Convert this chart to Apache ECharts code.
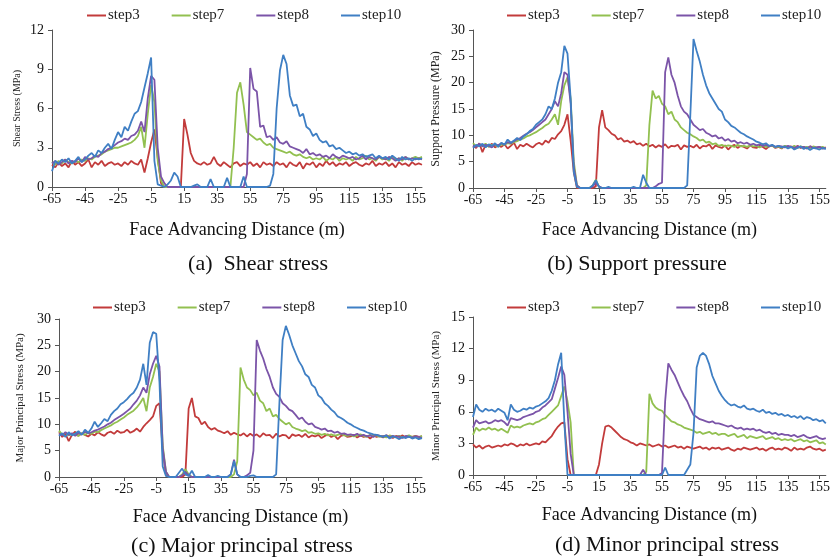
<!DOCTYPE html>
<html><head><meta charset="utf-8">
<script src="https://cdn.jsdelivr.net/npm/echarts@6/dist/echarts.min.js"></script>
<style>html,body{margin:0;padding:0;background:#fff}#c{width:833px;height:558px}</style>
</head><body><div id="c"></div>
<script>
const distance = [-65,-63,-61,-59,-57,-55,-53,-51,-49,-47,
-45,-43,-41,-39,-37,-35,-33,-31,-29,-27,
-25,-23,-21,-19,-17,-15,-13,-11,-9,-7,
-5,-3,-1,1,3,5,7,9,11,13,
15,17,19,21,23,25,27,29,31,33,
35,37,39,41,43,45,47,49,51,53,
55,57,59,61,63,65,67,69,71,73,
75,77,79,81,83,85,87,89,91,93,
95,97,99,101,103,105,107,109,111,113,
115,117,119,121,123,125,127,129,131,133,
135,137,139,141,143,145,147,149,151,153,
155,157,159];
const seriesNames = ['step3','step7','step8','step10'];
const colors = ['#c23b3b','#92c050','#7b54a8','#3f7fc4'];

// (a) Shear stress
const shear3 = [1.7,1.5,1.9,1.6,1.8,1.5,2.0,1.7,1.9,1.6,
1.8,2.1,1.5,1.9,1.7,2.0,1.6,1.8,1.9,1.7,
1.8,1.6,1.9,1.7,2.0,1.8,1.7,2.1,1.1,2.2,
3.4,4.4,2.2,0.3,0,0,0,0,0,0,
5.2,4.0,2.6,2.0,1.8,1.7,1.9,1.7,1.8,2.3,
1.8,1.6,1.9,1.7,1.5,1.8,1.9,1.6,1.8,1.7,
1.9,1.6,1.8,1.5,1.9,1.7,1.8,1.6,1.9,1.7,
1.8,1.5,1.9,1.7,1.6,1.9,1.4,1.8,1.7,1.9,
1.5,1.8,1.6,2.0,1.7,1.9,1.6,1.8,1.7,1.9,
1.6,1.8,1.9,1.7,1.6,1.8,1.7,2.0,1.6,1.8,
1.7,1.9,1.6,1.8,1.5,1.9,1.7,1.8,1.6,1.9,
1.7,1.8,1.7];
const shear7 = [1.9,1.7,2.0,1.8,2.1,1.9,1.8,2.0,1.9,2.1,
2.0,2.2,2.1,2.3,2.4,2.5,2.7,2.8,2.9,3.0,
3.0,3.1,3.2,3.3,3.4,3.6,3.9,4.6,3.0,5.6,
7.8,6.5,2.0,0.5,0,0,0,0,0,0,
0,0,0,0,0,0,0,0,0,0,
0,0,0,0,0,3.0,7.2,8.0,6.3,4.2,
4.0,3.8,3.6,3.7,3.4,3.2,3.3,3.0,2.9,2.8,
2.7,2.6,2.7,2.5,2.4,2.5,2.3,2.2,2.3,2.1,
2.2,2.1,2.3,2.0,2.2,2.1,2.3,2.0,2.2,2.1,
2.2,2.0,2.3,2.1,2.2,2.4,2.1,2.2,2.0,2.3,
2.1,2.2,2.0,2.3,2.1,2.2,2.0,2.3,2.1,2.2,
2.3,2.2,2.3];
const shear8 = [1.8,2.0,1.7,1.9,2.1,1.8,2.0,1.9,2.2,1.9,
2.3,2.1,2.2,2.4,2.3,2.6,2.7,2.9,3.0,3.2,
3.4,3.5,3.7,3.6,3.9,4.0,4.3,5.0,4.2,6.8,
8.5,8.2,3.0,0.8,0.3,0,0,0,0,0,
0,0,0,0,0,0,0,0,0,0,
0,0,0,0,0,0,0,0,0,1.0,
9.1,7.5,7.3,4.6,4.7,3.8,3.9,3.6,3.8,3.4,
3.3,3.5,3.1,3.0,2.9,2.8,2.6,2.9,2.5,2.6,
2.4,2.5,2.3,2.4,2.2,2.5,2.3,2.2,2.4,2.3,
2.2,2.3,2.1,2.2,2.4,2.1,2.3,2.2,2.1,2.3,
2.2,2.1,2.3,2.2,2.0,2.2,2.1,2.3,2.1,2.2,
2.1,2.2,2.1];
const shear10 = [1.2,2.0,1.8,2.1,1.9,2.2,1.8,2.0,2.3,1.9,
2.1,2.4,2.6,2.3,2.8,2.6,3.0,3.3,2.9,3.6,
4.2,3.8,4.6,4.3,5.0,5.6,5.8,6.5,7.6,8.7,
9.9,2.0,0.2,0.1,0,0.2,0.5,1.1,0.8,0,
0,0,0,0.1,0.2,0,0,0,0.6,0,
0,0,0,0.7,0,0,0,0,0.8,0,
0,0,0,0,0,0,0.1,1.0,6.0,8.9,
10.1,9.4,7.0,6.2,6.3,5.4,5.6,4.6,4.4,3.9,
4.1,3.6,3.4,3.5,3.1,3.2,2.9,3.0,2.8,2.6,
2.7,2.5,2.6,2.4,2.5,2.3,2.4,2.5,2.2,2.4,
2.2,2.3,2.1,2.4,2.2,2.0,2.3,2.1,2.2,2.0,
2.2,2.1,2.2];

// (b) Support pressure
const support3 = [8.0,7.6,8.5,6.8,8.2,7.9,8.4,7.7,8.1,7.8,
8.3,7.5,8.0,8.6,7.4,8.2,7.9,8.4,8.0,7.7,
8.3,8.6,8.2,9.0,8.6,9.5,9.3,10.2,10.8,12.0,
14.0,9.0,3.0,0,0,0,0,0,0,0.3,
11.5,14.8,11.5,11.0,10.3,10.0,9.2,9.5,8.8,9.0,
8.6,8.9,8.3,8.5,8.0,8.4,7.9,8.2,7.7,8.1,
7.8,8.3,7.6,8.0,7.9,8.2,7.3,8.1,7.8,8.0,
7.7,8.2,7.5,8.0,7.9,8.3,7.4,8.1,7.8,7.6,
8.1,7.3,7.9,8.2,7.6,8.0,7.8,7.5,8.1,7.7,
7.6,8.0,7.8,7.4,7.9,8.1,7.6,7.8,7.5,8.0,
7.7,7.9,7.4,8.0,7.6,7.8,7.5,7.9,7.7,7.6,
7.8,7.5,7.7];
const support7 = [8.5,7.9,8.3,8.0,8.4,7.8,8.2,8.1,7.9,8.3,
8.2,8.5,8.4,8.7,8.9,9.2,9.4,9.8,10.0,10.3,
10.6,11.0,11.4,11.9,12.2,13.0,14.0,12.0,16.5,19.5,
21.0,17.0,5.0,0.5,0,0,0,0,0.5,1.6,
0.2,0,0,0,0,0,0,0,0,0,
0,0,0,0,0,0.5,12.0,18.5,17.0,17.5,
16.0,15.5,14.0,14.5,13.0,12.5,11.5,11.0,10.5,10.2,
9.8,9.5,9.0,9.2,8.6,8.8,8.3,8.5,8.0,8.2,
7.9,8.1,8.0,7.8,8.2,7.9,8.0,7.8,8.1,7.9,
8.0,7.7,8.1,7.8,7.9,8.0,7.7,7.9,7.6,8.0,
7.8,7.7,8.0,7.6,7.9,7.7,7.8,7.5,7.9,7.7,
7.6,7.8,7.5];
const support8 = [8.1,7.8,8.4,7.9,8.2,8.0,7.7,8.3,8.1,8.5,
8.3,8.7,8.5,8.9,9.2,9.5,9.9,10.3,10.6,11.0,
11.5,12.0,12.5,13.0,14.0,15.0,16.5,15.5,18.0,22.0,
21.5,16.0,4.0,0.5,0,0,0,0,0.3,1.0,
0.3,0,0,0,0,0,0,0,0,0,
0,0,0,0,0,0,0,0,0.3,0.8,
1.0,22.0,24.8,21.5,20.0,17.5,15.5,14.5,14.0,13.0,
12.0,11.5,11.0,11.2,10.5,10.2,9.8,10.0,9.4,9.6,
9.0,9.3,8.8,9.0,8.5,8.7,8.4,8.6,8.2,8.4,
8.1,8.3,8.0,8.2,7.9,8.1,7.8,8.0,7.9,7.7,
8.0,7.8,7.6,7.9,7.7,7.8,7.5,7.9,7.6,7.7,
7.8,7.5,7.6];
const support10 = [7.6,8.2,7.9,8.4,7.7,8.3,8.0,8.5,7.8,8.6,
8.2,9.2,8.6,9.0,9.5,9.1,9.8,10.2,10.8,11.2,
12.0,12.5,13.0,14.0,15.5,15.0,17.0,20.0,22.0,27.0,
25.5,17.0,3.0,0.2,0,0,0,0,0.5,1.5,
0.2,0,0,0.2,0,0,0,0,0,0,
0,0.2,0,0,2.5,1.0,0,0,0,0,
0,0,0,0,0,0,0,0,0.5,14.0,
28.3,26.0,24.0,21.5,19.5,18.0,17.0,16.0,15.0,14.5,
13.0,12.5,11.8,11.5,11.0,10.5,10.2,9.8,9.5,9.2,
8.8,8.6,8.3,8.5,8.0,8.2,7.8,8.0,7.7,7.9,
7.5,7.8,7.3,7.6,7.9,7.4,7.7,7.2,7.6,7.5,
7.3,7.6,7.4];

// (c) Major principal stress
const major3 = [8.5,7.6,8.2,6.8,8.0,8.6,7.8,8.3,8.0,7.7,
8.2,7.9,8.5,8.1,7.8,8.4,8.6,8.2,8.8,8.4,
8.5,9.0,8.4,8.7,9.2,8.6,9.5,10.2,10.8,11.5,
13.5,14.0,5.0,0.3,0,0,0,0,0,0.5,
13.0,15.0,11.5,11.2,10.0,10.5,9.5,9.0,9.3,8.8,
8.6,8.3,8.7,8.0,8.4,8.1,7.9,8.3,7.7,8.2,
7.8,8.1,7.6,8.3,7.9,8.0,7.4,8.2,7.7,8.0,
7.9,7.3,8.1,7.8,8.0,7.6,8.2,7.5,7.9,7.7,
8.0,7.4,7.8,8.1,7.6,7.9,7.2,7.8,8.0,7.6,
7.7,8.0,7.5,7.9,7.6,7.8,7.3,7.9,7.6,7.8,
7.5,7.9,7.7,7.4,7.8,7.6,7.9,7.5,7.7,7.6,
7.8,7.6,7.7];
const major7 = [8.8,8.0,8.4,7.9,8.2,8.1,7.8,8.3,8.0,8.4,
8.2,8.6,8.5,8.9,9.2,9.5,9.8,10.2,10.5,10.9,
11.3,11.8,12.2,12.6,13.2,14.0,15.0,12.5,17.0,19.0,
21.5,20.0,6.0,1.0,0,0,0,0,0.5,1.5,
0.5,0,0,0,0,0,0,0,0,0,
0,0,0,0,0.5,3.0,20.8,18.5,17.0,16.5,
15.5,16.0,14.5,14.0,12.5,13.0,11.5,11.8,11.0,10.5,
10.0,10.3,9.5,9.2,9.0,8.7,8.9,8.4,8.5,8.2,
8.3,8.0,8.2,7.9,8.1,7.8,8.0,8.2,7.9,7.8,
8.0,7.7,7.9,8.1,7.8,7.6,8.0,7.7,7.9,7.6,
7.8,7.5,7.9,7.7,7.6,7.8,7.5,7.7,7.9,7.6,
7.7,7.5,7.8];
const major8 = [8.2,7.9,8.5,8.0,8.3,7.8,8.4,8.1,8.6,8.3,
8.5,8.8,9.0,9.3,9.6,10.0,10.3,10.8,11.2,11.6,
12.0,12.5,13.0,13.8,14.5,15.5,17.0,16.0,19.5,21.5,
23.0,21.0,5.5,1.0,0,0,0,0,0.3,1.0,
0.3,0,0,0,0,0,0,0,0,0,
0,0,0,0.5,3.3,0.5,0,0,0.3,0.8,
5.0,26.0,24.0,22.5,20.5,19.0,17.0,15.8,15.2,14.0,
13.5,12.8,12.5,11.8,11.0,11.3,10.5,10.0,10.2,9.5,
9.3,9.0,9.2,8.7,8.8,8.4,8.6,8.2,8.3,8.0,
8.1,7.9,8.2,7.8,8.0,7.7,7.9,7.6,8.0,7.8,
7.7,7.9,7.5,7.8,7.6,7.7,7.4,7.8,7.6,7.5,
7.7,7.6,7.4];
const major10 = [7.8,8.3,7.6,8.5,7.9,8.2,8.7,8.0,9.0,8.4,
9.2,10.5,9.5,10.2,11.0,10.6,11.8,12.5,13.0,13.8,
14.2,14.8,15.5,16.0,17.0,18.5,21.5,17.5,25.5,27.5,
27.2,18.0,2.0,0.2,0,0,0,0.8,1.6,0.5,
0.2,1.2,0,0,0,0,0.4,0,0,0.2,
0,0,0,0.5,3.0,0.5,0,0,0,0.2,
0.3,0,0,0,0,0,0,0.5,14.0,26.0,
28.7,27.0,25.0,23.5,22.0,21.0,19.5,19.0,17.5,17.0,
15.5,15.0,14.0,13.5,12.8,12.3,11.5,11.2,10.8,10.3,
10.0,9.6,9.3,9.0,8.8,8.5,8.3,8.1,8.0,7.8,
7.6,7.9,7.3,7.7,7.5,7.2,7.6,7.4,7.7,7.3,
7.5,7.2,7.4];

// (d) Minor principal stress
const minor3 = [2.9,2.6,2.8,2.5,2.7,2.8,2.6,2.7,2.8,2.7,
2.9,2.8,3.0,2.9,2.7,2.9,2.8,3.0,2.8,2.9,
3.0,2.9,3.2,3.1,3.4,3.7,4.2,4.6,4.9,5.0,
1.5,0,0,0,0,0,0,0,0,0,
1.0,3.0,4.6,4.7,4.5,4.2,3.9,3.6,3.4,3.3,
3.1,3.0,2.8,3.0,2.9,2.8,2.9,2.7,2.8,2.9,
2.7,2.8,2.6,2.7,2.8,2.6,2.7,2.5,2.7,2.6,
2.5,2.6,2.7,2.5,2.6,2.4,2.6,2.5,2.6,2.4,
2.5,2.6,2.4,2.3,2.5,2.4,2.6,2.5,2.4,2.5,
2.6,2.4,2.5,2.3,2.5,2.6,2.4,2.5,2.4,2.6,
2.5,2.3,2.6,2.4,2.5,2.4,2.6,2.7,2.5,2.4,
2.5,2.3,2.4];
const minor7 = [3.8,4.5,4.2,4.4,4.3,4.5,4.3,4.4,4.2,4.4,
4.2,4.0,4.7,4.5,4.6,4.5,4.7,4.8,4.9,4.8,
5.0,5.1,5.3,5.4,5.7,6.0,6.3,6.6,7.5,8.4,
7.0,5.0,0,0,0,0,0,0,0,0,
0,0,0,0,0,0,0,0,0,0,
0,0,0,0,0,0.3,7.7,6.8,6.4,6.2,
6.1,5.7,5.4,5.1,5.0,4.8,4.7,4.5,4.4,4.3,
4.2,4.0,4.1,3.9,4.0,4.1,3.9,4.0,3.8,3.9,
3.9,3.7,3.8,3.9,3.6,3.7,3.8,3.5,3.7,3.6,
3.5,3.6,3.7,3.4,3.5,3.6,3.4,3.5,3.3,3.4,
3.3,3.4,3.2,3.3,3.4,3.2,3.3,3.1,3.2,3.3,
3.0,3.1,2.9];
const minor8 = [4.5,5.2,4.9,5.0,5.1,4.9,5.0,5.2,5.1,5.2,
5.0,4.7,5.4,5.3,5.2,5.3,5.5,5.6,5.7,5.8,
6.0,6.1,6.4,6.6,6.9,7.2,8.2,9.2,10.3,9.5,
6.0,2.0,0,0,0,0,0,0,0,0,
0,0,0,0,0,0,0,0,0,0,
0,0,0,0,0.5,0,0,0,0,0,
0.2,7.0,10.6,10.0,9.5,8.8,8.1,7.5,7.0,6.3,
5.7,5.5,5.3,5.2,5.1,5.0,5.1,4.9,4.9,4.8,
4.7,4.6,4.7,4.5,4.4,4.5,4.3,4.4,4.3,4.4,
4.2,4.3,4.1,4.0,4.1,3.9,4.0,3.8,3.9,3.8,
3.8,3.7,3.8,3.6,3.7,3.8,3.6,3.5,3.6,3.7,
3.5,3.4,3.5];
const minor10 = [5.5,6.7,6.2,6.0,6.3,6.1,6.2,6.0,6.3,6.1,
5.9,5.2,6.7,6.2,6.0,6.1,6.3,6.2,6.4,6.3,
6.5,6.6,6.8,7.0,7.3,8.0,9.0,10.5,11.6,5.0,
0,0,0,0,0,0,0,0,0,0,
0,0,0,0,0,0,0,0,0,0,
0,0,0,0,0,0,0,0,0,0,
0,0.7,0,0,0,0,0,0,0.5,1.0,
4.0,10.2,11.3,11.6,11.3,10.5,9.4,8.7,8.0,7.5,
7.1,6.8,6.6,6.7,6.5,6.4,6.6,6.3,6.2,6.3,
6.1,6.0,6.2,5.9,6.0,5.8,5.9,5.7,5.8,5.6,
5.7,5.5,5.6,5.4,5.6,5.3,5.5,5.4,5.2,5.3,
5.1,5.2,4.9];

const yMax = [12, 30, 30, 15];
const yStep = [3, 5, 5, 3];
const yNames = ['Shear Stress (MPa)','Support Pressure (MPa)','Major Principal Stress (MPa)','Minor Principal Stress (MPa)'];
const subTitles = ['(a)  Shear stress','(b) Support pressure','(c) Major principal stress','(d) Minor principal stress'];
const xTitle = 'Face Advancing Distance (m)';
const panelData = [
  [shear3, shear7, shear8, shear10],
  [support3, support7, support8, support10],
  [major3, major7, major8, major10],
  [minor3, minor7, minor8, minor10]
];

const FONT = '"Liberation Serif","Times New Roman",serif';
const layout = [
  {left:52, top:30, width:370, height:157, yNameSize:10, yNameGap:30, xNameGap:34, legLeft:87, legTop:8, subX:258, subTop:253},
  {left:473, top:30, width:358, height:158, yNameSize:12, yNameGap:31, xNameGap:33, legLeft:507, legTop:8, subX:637, subTop:253},
  {left:59, top:319, width:363, height:158, yNameSize:11, yNameGap:33, xNameGap:31, legLeft:93, legTop:300, subX:242, subTop:535},
  {left:473, top:317, width:361, height:158, yNameSize:11, yNameGap:31, xNameGap:31, legLeft:507, legTop:300, subX:667, subTop:534}
];

const grid = [], xAxis = [], yAxis = [], series = [], legend = [], title = [];
layout.forEach((L, p) => {
  grid.push({left:L.left, top:L.top, width:L.width, height:L.height, containLabel:false});
  xAxis.push({
    type:'category', gridIndex:p, data:distance, boundaryGap:false,
    axisLine:{lineStyle:{color:'#555', width:1}},
    axisTick:{show:true, interval:9, length:4, inside:false, lineStyle:{color:'#555'}},
    axisLabel:{interval:9, fontFamily:FONT, fontSize:14, color:'#111', margin:5},
    splitLine:{show:false},
    name:xTitle, nameLocation:'middle', nameGap:L.xNameGap,
    nameTextStyle:{fontFamily:FONT, fontSize:18, color:'#111'}
  });
  yAxis.push({
    type:'value', gridIndex:p, min:0, max:yMax[p], interval:yStep[p],
    axisLine:{show:true, lineStyle:{color:'#555', width:1}},
    axisTick:{show:true, length:4, lineStyle:{color:'#555'}},
    axisLabel:{fontFamily:FONT, fontSize:14, color:'#111', margin:8},
    splitLine:{show:false},
    name:yNames[p], nameLocation:'middle', nameGap:L.yNameGap,
    nameTextStyle:{fontFamily:FONT, fontSize:L.yNameSize, color:'#222'}
  });
  panelData[p].forEach((arr, s) => {
    series.push({
      type:'line', name:seriesNames[s], xAxisIndex:p, yAxisIndex:p, data:arr,
      symbol:'none', showSymbol:false, smooth:false,
      lineStyle:{width:1.8, color:colors[s]}, itemStyle:{color:colors[s]},
      animation:false
    });
  });
  legend.push({
    left:L.legLeft, top:L.legTop, padding:0, itemGap:32, itemWidth:19, itemHeight:2,
    icon:'rect', data:seriesNames,
    textStyle:{fontFamily:FONT, fontSize:15, color:'#222', padding:[0,0,0,-3]}
  });
  title.push({
    text:subTitles[p], left:L.subX, top:L.subTop, textAlign:'center', padding:0,
    textStyle:{fontFamily:FONT, fontSize:22, fontWeight:'normal', color:'#111'}
  });
});

const chart = echarts.init(document.getElementById('c'), null, {renderer:'canvas'});
chart.setOption({
  backgroundColor:'#ffffff',
  animation:false,
  color:colors,
  title, legend, grid, xAxis, yAxis, series
});
</script>
</body></html>
